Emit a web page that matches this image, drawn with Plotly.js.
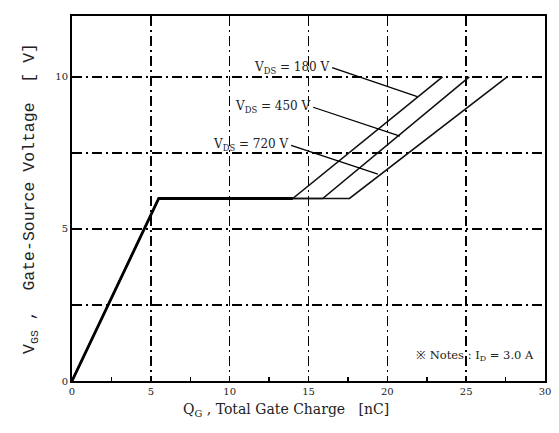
<!DOCTYPE html>
<html><head><meta charset="utf-8">
<script src="https://cdn.plot.ly/plotly-3.0.1.min.js"></script>
<style>html,body{margin:0;padding:0;background:#fff;}#chart{width:559px;height:433px;}</style>
</head><body><div id="chart"></div>
<script>
// Gate charge curves: Qg (nC) vs Vgs (V)
const seriesNames = ['V<sub>DS</sub> = 180 V', 'V<sub>DS</sub> = 450 V', 'V<sub>DS</sub> = 720 V'];
const qg180 = [0, 5.5, 14.0, 23.5];
const vgs180 = [0, 6.0, 6.0, 10.0];
const qg450 = [0, 5.5, 15.9, 25.2];
const vgs450 = [0, 6.0, 6.0, 10.0];
const qg720 = [0, 5.5, 17.6, 27.6];
const vgs720 = [0, 6.0, 6.0, 10.0];
// shared part of all three curves (drawn heavier)
const qgCommon = [0, 5.5, 14.0];
const vgsCommon = [0, 6.0, 6.0];
// label pointer: text anchor point and the curve point it points to
const labelTailQ = [16.5, 15.3, 13.9];
const labelTailV = [10.3, 9.0, 7.75];
const labelHeadQ = [21.9, 20.8, 19.4];
const labelHeadV = [9.35, 8.05, 6.8];
const xTickVals = [0, 5, 10, 15, 20, 25, 30];
const yTickVals = [0, 2.5, 5, 7.5, 10];
const yTickText = ['0', '', '5', '', '10'];

const xs = [qg180, qg450, qg720];
const ys = [vgs180, vgs450, vgs720];
const data = xs.map((x, i) => ({
  x: x, y: ys[i], type: 'scatter', mode: 'lines', name: seriesNames[i],
  line: {color: '#111', width: 1.6},
  hoverinfo: 'skip'
}));
data.push({x: qgCommon, y: vgsCommon, type: 'scatter', mode: 'lines', line: {color: '#000', width: 2.8}, hoverinfo: 'skip'});

const shapes = labelTailQ.map((q, i) => ({
  type: 'line', xref: 'x', yref: 'y', x0: q, y0: labelTailV[i], x1: labelHeadQ[i], y1: labelHeadV[i],
  line: {color: '#000', width: 1.3}
}));
const annotations = seriesNames.map((t, i) => ({
  x: labelTailQ[i], y: labelTailV[i], xref: 'x', yref: 'y', text: t, showarrow: false,
  xanchor: 'right', yanchor: 'middle', font: {family: 'DejaVu Serif', size: 12, color: '#222'}
}));
annotations.push({
  x: 29.4, y: 0.85, xref: 'x', yref: 'y', text: '※ Notes : I<sub>D</sub> = 3.0 A', showarrow: false,
  xanchor: 'right', yanchor: 'middle', font: {family: 'DejaVu Serif', size: 11.5, color: '#222'}
});
annotations.push({
  x: 0.452, y: -0.08, xref: 'paper', yref: 'paper', text: 'Q<sub>G</sub> , Total Gate Charge   [nC]', showarrow: false,
  xanchor: 'center', yanchor: 'middle', font: {family: 'DejaVu Serif', size: 14, color: '#222'}
});

const gridDash = '10px,4px,2px,4px';
const layout = {
  width: 559, height: 433,
  margin: {l: 72, r: 14, t: 16, b: 52},
  paper_bgcolor: '#fff', plot_bgcolor: '#fff',
  showlegend: false,
  xaxis: {
    range: [0, 30], tickvals: xTickVals, ticks: 'inside', ticklen: 5, tickwidth: 1.5, tickcolor: '#000',
    showline: true, linewidth: 2, linecolor: '#000', mirror: true,
    showgrid: true, gridcolor: '#000', gridwidth: 1.5, griddash: gridDash, zeroline: false,
    minor: {dtick: 2.5, ticks: 'inside', ticklen: 4, tickcolor: '#000', showgrid: false},
    tickfont: {family: 'DejaVu Serif', size: 10, color: '#222'}
  },
  yaxis: {
    range: [0, 12], tickvals: yTickVals, ticktext: yTickText, ticks: 'inside', ticklen: 5, tickwidth: 1.5, tickcolor: '#000',
    showline: true, linewidth: 2, linecolor: '#000', mirror: true,
    showgrid: true, gridcolor: '#000', gridwidth: 1.5, griddash: gridDash, zeroline: false,
    tickfont: {family: 'DejaVu Serif', size: 10, color: '#222'},
    title: {text: 'V<sub>GS</sub> ,  Gate-Source Voltage  [ V]', font: {family: 'Liberation Mono', size: 16.5, color: '#222'}, standoff: 16}
  },
  shapes: shapes,
  annotations: annotations
};
Plotly.newPlot('chart', data, layout, {displayModeBar: false, staticPlot: true});
</script></body></html>
